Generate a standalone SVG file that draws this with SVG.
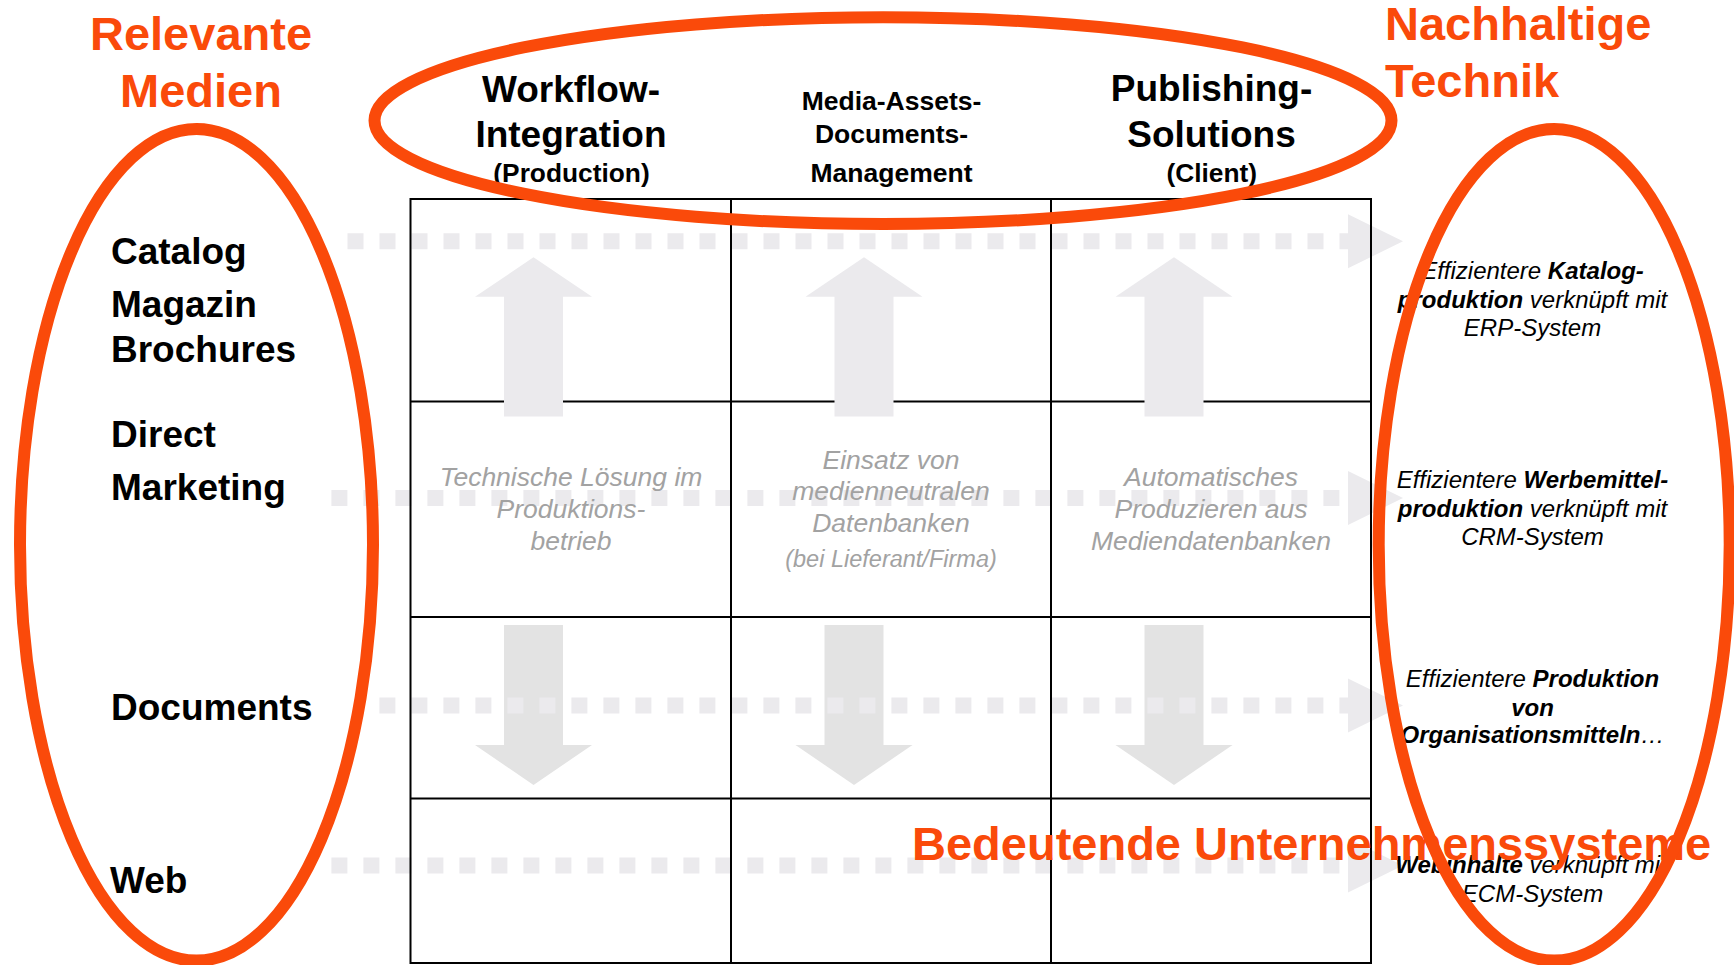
<svg xmlns="http://www.w3.org/2000/svg" width="1734" height="965" viewBox="0 0 1734 965">
<style>
.dots{stroke:#EBEAED;stroke-width:16;stroke-dasharray:16 16;fill:none}
.head{fill:#EBEAED}
.up{fill:#EBEAED}
.down{fill:#E3E3E3}
.grid{stroke:#000;stroke-width:2;fill:none}
.hdr{font-family:"Liberation Sans",Arial,sans-serif;font-weight:bold;fill:#000;text-anchor:middle}
.lbl{font-family:"Liberation Sans",Arial,sans-serif;font-weight:bold;fill:#000;font-size:37px}
.gray{font-family:"Liberation Sans",Arial,sans-serif;font-style:italic;fill:#A2A2A2;text-anchor:middle;font-size:26.5px}
.res{font-family:"Liberation Sans",Arial,sans-serif;font-style:italic;fill:#000;text-anchor:middle;font-size:24px}
.b{font-weight:bold}
.title{font-family:"Liberation Sans",Arial,sans-serif;font-weight:bold;fill:#FA4A0A;font-size:47px}
.ell{fill:none;stroke:#FA4A0A;stroke-width:12}
</style>

<g id="connectors">
  <g id="down-arrows">
    <polygon class="down" points="504,625 563,625 563,745 592,745 533.5,785 475,745 504,745"/>
    <polygon class="down" points="824.5,625 883.5,625 883.5,745 912.5,745 854,785 795.5,745 824.5,745"/>
    <polygon class="down" points="1144.5,625 1203.5,625 1203.5,745 1232.5,745 1174,785 1115.5,745 1144.5,745"/>
  </g>
  <g id="dotted-arrows">
    <line class="dots" x1="347.5" y1="241.3" x2="1352" y2="241.3"/>
    <polygon class="head" points="1348,214.3 1403,241.3 1348,268.3"/>
    <line class="dots" x1="331.4" y1="498" x2="1352" y2="498"/>
    <polygon class="head" points="1348,471 1403,498 1348,525"/>
    <line class="dots" x1="379.4" y1="705.5" x2="1352" y2="705.5"/>
    <polygon class="head" points="1348,678.5 1403,705.5 1348,732.5"/>
    <line class="dots" x1="331.4" y1="865.5" x2="1352" y2="865.5"/>
    <polygon class="head" points="1348,838.5 1403,865.5 1348,892.5"/>
  </g>
</g>

<g id="grid">
  <rect class="grid" x="410.5" y="199" width="960.5" height="764"/>
  <line class="grid" x1="731" y1="199" x2="731" y2="963"/>
  <line class="grid" x1="1051" y1="199" x2="1051" y2="963"/>
  <line class="grid" x1="410.5" y1="401.5" x2="1371" y2="401.5"/>
  <line class="grid" x1="410.5" y1="617" x2="1371" y2="617"/>
  <line class="grid" x1="410.5" y1="798.5" x2="1371" y2="798.5"/>
</g>

<g id="up-arrows">
  <polygon class="up" points="504,416.6 563,416.6 563,296.7 592,296.7 533.5,257.3 475,296.7 504,296.7"/>
  <polygon class="up" points="834.5,416.6 893.5,416.6 893.5,296.7 922.5,296.7 864,257.3 805.5,296.7 834.5,296.7"/>
  <polygon class="up" points="1144.5,416.6 1203.5,416.6 1203.5,296.7 1232.5,296.7 1174,257.3 1115.5,296.7 1144.5,296.7"/>
</g>

<g id="cell-texts">
  <text class="gray"><tspan x="571" y="485.6">Technische Lösung im</tspan><tspan x="571" y="517.5">Produktions-</tspan><tspan x="571" y="549.8">betrieb</tspan></text>
  <text class="gray"><tspan x="891" y="468.8">Einsatz von</tspan><tspan x="891" y="500">medienneutralen</tspan><tspan x="891" y="532">Datenbanken</tspan><tspan x="891" y="566.6" font-size="23.5">(bei Lieferant/Firma)</tspan></text>
  <text class="gray"><tspan x="1211" y="485.6">Automatisches</tspan><tspan x="1211" y="517.5">Produzieren aus</tspan><tspan x="1211" y="549.8">Mediendatenbanken</tspan></text>
</g>

<g id="col-workflow">
  <text class="hdr" font-size="37"><tspan x="571" y="102">Workflow-</tspan><tspan x="571" y="146.5">Integration</tspan></text>
  <text class="hdr" font-size="26.3" x="571.5" y="181.5">(Production)</text>
</g>
<g id="col-media">
  <text class="hdr" font-size="26.5"><tspan x="891.5" y="110">Media-Assets-</tspan><tspan x="891.5" y="142.5">Documents-</tspan><tspan x="891.5" y="181.5">Management</tspan></text>
</g>
<g id="col-publishing">
  <text class="hdr" font-size="37"><tspan x="1211.5" y="101">Publishing-</tspan><tspan x="1211.5" y="146.5">Solutions</tspan></text>
  <text class="hdr" font-size="26.3" x="1211.7" y="181.5">(Client)</text>
</g>

<g id="media-labels">
  <text class="lbl" x="111" y="263.5">Catalog</text>
  <text class="lbl" x="111" y="317">Magazin</text>
  <text class="lbl" x="111" y="362">Brochures</text>
  <text class="lbl" x="111" y="446.5">Direct</text>
  <text class="lbl" x="111" y="500">Marketing</text>
  <text class="lbl" x="111" y="720">Documents</text>
  <text class="lbl" x="110" y="893">Web</text>
</g>

<g id="results">
  <text class="res"><tspan x="1532.5" y="279">Effizientere <tspan class="b">Katalog-</tspan></tspan><tspan x="1532.5" y="307.5"><tspan class="b">produktion</tspan> verknüpft mit</tspan><tspan x="1532.5" y="336">ERP-System</tspan></text>
  <text class="res"><tspan x="1532.5" y="488">Effizientere <tspan class="b">Werbemittel-</tspan></tspan><tspan x="1532.5" y="517"><tspan class="b">produktion</tspan> verknüpft mit</tspan><tspan x="1532.5" y="545.3">CRM-System</tspan></text>
  <text class="res"><tspan x="1532.5" y="686.7">Effizientere <tspan class="b">Produktion</tspan></tspan><tspan x="1532.5" y="715.8" class="b">von</tspan><tspan x="1532.5" y="743"><tspan class="b">Organisationsmitteln</tspan>…</tspan></text>
  <text class="res"><tspan x="1531" y="873.3"><tspan class="b">Webinhalte</tspan> verknüpft mit</tspan><tspan x="1532.5" y="901.6">ECM-System</tspan></text>
</g>

<g id="titles">
  <text class="title" x="201" y="50" text-anchor="middle">Relevante</text>
  <text class="title" x="201" y="106.7" text-anchor="middle">Medien</text>
  <text class="title" x="1385" y="40">Nachhaltige</text>
  <text class="title" x="1385" y="97.3">Technik</text>
  <text class="title" x="912" y="859.5" font-size="48">Bedeutende Unternehmenssysteme</text>
</g>

<g id="ellipses">
  <ellipse id="ell-top" class="ell" cx="883" cy="120.6" rx="508.5" ry="103.4"/>
  <ellipse id="ell-left" class="ell" cx="196.5" cy="544.8" rx="176.5" ry="415.8"/>
  <ellipse id="ell-right" class="ell" cx="1554.2" cy="544.8" rx="175.5" ry="415.8"/>
</g>
</svg>
